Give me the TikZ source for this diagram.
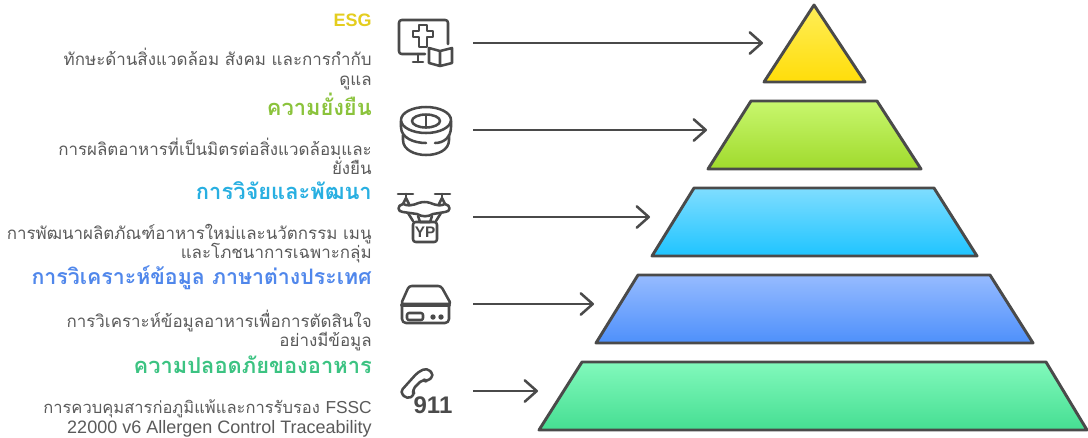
\documentclass[tikz,border=0pt]{standalone}
\usepackage{fontspec}
\setmainfont{Liberation Sans}
\newfontfamily\thaifont[Script=Thai]{Loma}
\newcommand{\lat}[2]{{\fontspec{Liberation Sans}\fontsize{#1}{14.4}\selectfont #2}}
\newcommand{\tightl}{\lineskiplimit=-20pt\relax}
\definecolor{ink}{HTML}{4A4A4A}
\definecolor{body}{HTML}{5A5A5A}
\definecolor{y1}{HTML}{FFEE58}\definecolor{y2}{HTML}{FFDD0A}
\definecolor{g1}{HTML}{C8F76E}\definecolor{g2}{HTML}{A0DA2C}
\definecolor{c1}{HTML}{7FDDFF}\definecolor{c2}{HTML}{1FC4FF}
\definecolor{b1}{HTML}{96BBFF}\definecolor{b2}{HTML}{4E90FB}
\definecolor{m1}{HTML}{82F9BC}\definecolor{m2}{HTML}{45DE92}
\usetikzlibrary{arrows.meta}
\tikzset{
  x=0.75pt,y=-0.75pt,
  tier/.style={draw=ink,line width=2.2pt,line join=round},
  ptr/.style={draw=ink,line width=1.9pt,-{Straight Barb[length=9pt,width=16pt,line width=1.9pt,round]}},
  ico/.style={draw=ink,line width=1.9pt,line cap=round,line join=round},
  head/.style={anchor=east,inner sep=0pt,font=\thaifont\bfseries\fontsize{16.4}{18}\selectfont},
  desc/.style={anchor=east,align=right,text=body,font=\thaifont\fontsize{12.7}{14.4}\selectfont\tightl,inner sep=0pt},
}
\begin{document}
\begin{tikzpicture}
\useasboundingbox (0,0) rectangle (1088,437);
% pyramid tiers
\path[tier,top color=y1,bottom color=y2] (814,5) -- (865,82) -- (764,82) -- cycle;
\path[tier,top color=g1,bottom color=g2] (751,101) -- (877,101) -- (921,169) -- (708,169) -- cycle;
\path[tier,top color=c1,bottom color=c2] (694,188) -- (934,188) -- (977,256) -- (652,256) -- cycle;
\path[tier,top color=b1,bottom color=b2] (638,275) -- (990,275) -- (1033,343) -- (596,343) -- cycle;
\path[tier,top color=m1,bottom color=m2] (582,362) -- (1046,362) -- (1087,430) -- (539,430) -- cycle;
% connectors
\foreach \n/\y/\xe in {a/43/763,b/130/707,c/217/650,d/304/594,e/391/538}{
  \coordinate (s\n) at (473,\y);
  \coordinate (t\n) at (\xe,\y);
  \draw[ptr] (s\n) -- (t\n);
}
% texts
\node[head,text={rgb,255:red,228;green,205;blue,30},font=\bfseries\fontsize{13.5}{16}\selectfont] (h1) at (372,20) {ESG};
\node[desc] (d1) at (372,69) {ทักษะด้านสิ่งแวดล้อม สังคม และการกำกับ\\ดูแล};
\node[head,text={rgb,255:red,139;green,195;blue,60}] (h2) at (372,104) {ความยั่งยืน};
\node[desc] (d2) at (372,156) {การผลิตอาหารที่เป็นมิตรต่อสิ่งแวดล้อมและ\\ยั่งยืน};
\node[head,text={rgb,255:red,40;green,175;blue,225}] (h3) at (372,191) {การวิจัยและพัฒนา};
\node[desc] (d3) at (372,243.5) {การพัฒนาผลิตภัณฑ์อาหารใหม่และนวัตกรรม เมนู\\และโภชนาการเฉพาะกลุ่ม};
\node[head,text={rgb,255:red,80;green,135;blue,235},font=\thaifont\bfseries\fontsize{16}{18}\selectfont] (h4) at (372,278) {การวิเคราะห์ข้อมูล ภาษาต่างประเทศ};
\node[desc] (d4) at (372,330.5) {การวิเคราะห์ข้อมูลอาหารเพื่อการตัดสินใจ\\อย่างมีข้อมูล};
\node[head,text={rgb,255:red,60;green,195;blue,130}] (h5) at (372,365) {ความปลอดภัยของอาหาร};
\node[desc] (d5) at (372,418.5) {{\fontsize{12.4}{14.4}\selectfont การควบคุมสารก่อภูมิแพ้และการรับรอง }\lat{13}{FSSC}\\\lat{13.5}{22000 v6 Allergen Control Traceability\hspace{3pt}}};
% icon 1: monitor with cross and book
\draw[ico,rounded corners=2pt] (425,54) -- (399,54) -- (399,20) -- (448,20) -- (448,44);
\draw[ico] (418,54) -- (418,62) (413,62) -- (423,62);
\draw[ico] (419,25) -- (427,25) -- (427,31) -- (433,31) -- (433,37) -- (427,37) -- (427,47) -- (419,47) -- (419,37) -- (413,37) -- (413,31) -- (419,31) -- cycle;
\draw[ico] (440,51) -- (429,48) -- (429,63) -- (440,66) -- (452,63) -- (452,48) -- (440,51) -- (440,66);
% icon 2: coil
\draw[ico] (426,120) ellipse (25 and 13);
\draw[ico] (426,121) ellipse (14 and 6.5);
\draw[ico] (426,116) -- (426,126);
\draw[ico] (401,121) -- (401,127) .. controls (401,138) and (414,143) .. (426,143);
\draw[ico] (435,143) .. controls (443,143) and (451,138) .. (451,127) -- (451,121);
\draw[ico] (403,135) -- (403,140) .. controls (403,150) and (415,155) .. (426,155) .. controls (438,155) and (449,150) .. (449,140) -- (449,135);
% icon 3: drone
\draw[ico] (398,194) -- (413,194) (435,194) -- (450,194);
\draw[ico] (406,194) -- (406,199) (442,194) -- (442,199);
\draw[ico] (403,204) -- (406,198) -- (409,204) (439,204) -- (442,198) -- (445,204);
\draw[ico] (403,204) .. controls (397,205) and (397,212) .. (403,212) -- (417,214) .. controls (422,217) and (428,217) .. (433,214) -- (445,212) .. controls (451,212) and (451,205) .. (445,204) .. controls (436,208) and (433,202) .. (424.5,202) .. controls (416,202) and (413,208) .. (403,204);
\draw[ico] (408,213) -- (413,221) (441,213) -- (436,221);
\draw[ico] (418,216) -- (420,222) -- (430,222) -- (432,216);
\draw[ico,rounded corners=2pt] (413,222) rectangle (437,242);
\node[inner sep=0pt,text=ink,font=\bfseries\fontsize{11.5}{12}\selectfont] (yp) at (425,232.5) {YP};
% icon 4: disk drive
\draw[ico,rounded corners=2pt] (401,304) -- (409,286) -- (441,286) -- (451,304) -- cycle;
\draw[ico,line width=2.8pt] (402,305) -- (449,305);
\draw[ico,rounded corners=3pt] (402,305) -- (402,323) -- (449,323) -- (449,305);
\draw[ico,rounded corners=1.5pt] (407,313) rectangle (423,320);
\fill[ink] (433,317) circle (2.7) (441,317) circle (2.7);
% icon 5: phone and 911
\draw[ico,rounded corners=3pt] (400,392) -- (418,372) -- (427,368) -- (434,375) -- (427,382) -- (423,379) -- (412,390) -- (415,395) -- (407,399) -- cycle;
\node[anchor=center,inner sep=0pt,text=ink,font=\bfseries\fontsize{18}{18}\selectfont] (nine) at (433,405.5) {911};
\end{tikzpicture}
\end{document}
